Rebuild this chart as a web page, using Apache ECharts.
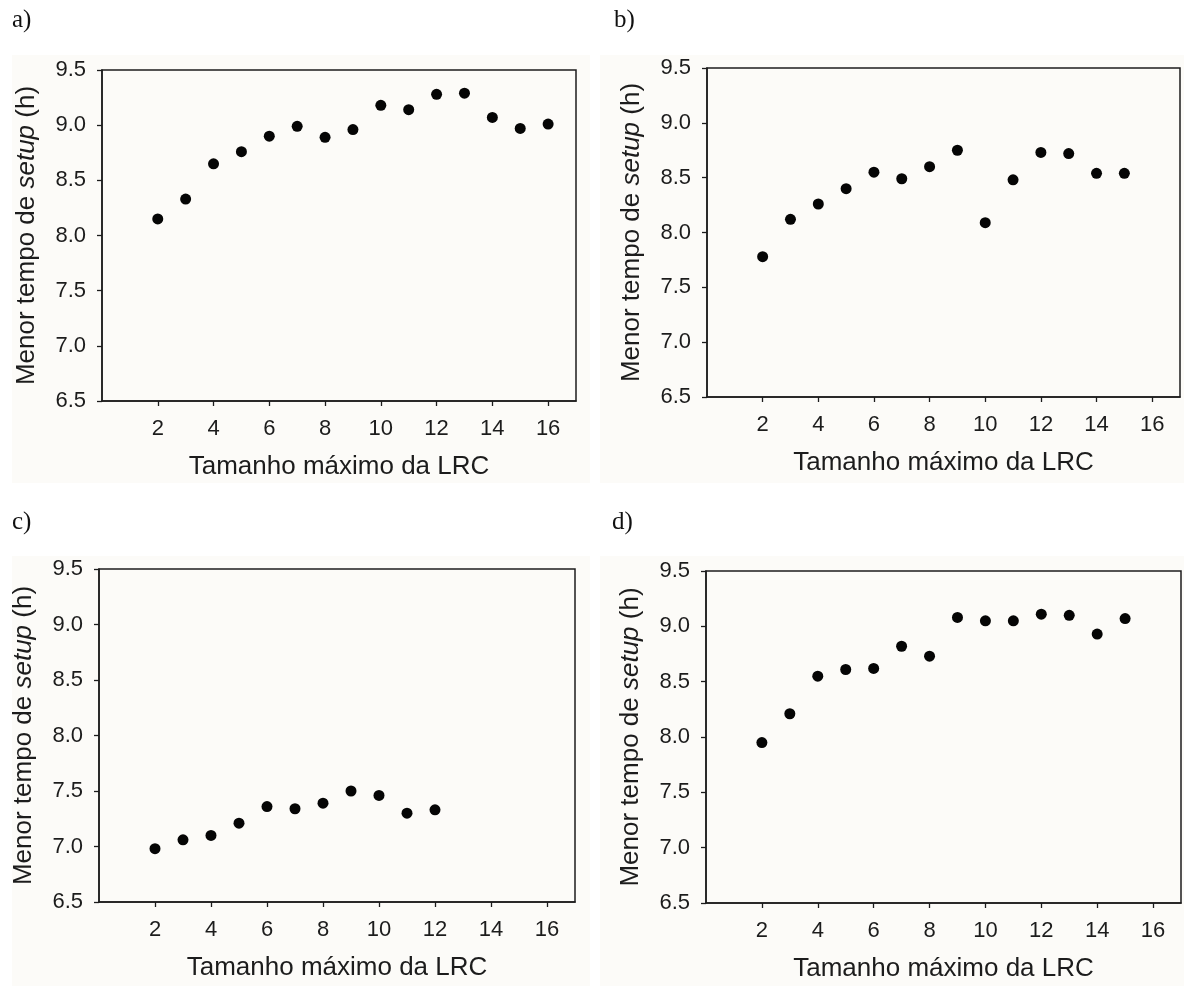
<!DOCTYPE html>
<html>
<head>
<meta charset="utf-8">
<title>Menor tempo de setup por tamanho máximo da LRC</title>
<script src="https://cdn.jsdelivr.net/npm/echarts@6/dist/echarts.min.js"></script>
<style>
  html, body { margin: 0; padding: 0; background: #ffffff; }
  #chart { width: 1184px; height: 987px; }
</style>
</head>
<body>
<div id="chart"></div>
<script>
// Tamanho máximo da LRC (x) and menor tempo de setup em horas (y), one list per cenário
const panelLabels = ['a)', 'b)', 'c)', 'd)'];
const xTicks = [2, 4, 6, 8, 10, 12, 14, 16];

const lrcA = [2, 3, 4, 5, 6, 7, 8, 9, 10, 11, 12, 13, 14, 15, 16];
const setupA = [8.15, 8.33, 8.65, 8.76, 8.90, 8.99, 8.89, 8.96, 9.18, 9.14, 9.28, 9.29, 9.07, 8.97, 9.01];

const lrcB = [2, 3, 4, 5, 6, 7, 8, 9, 10, 11, 12, 13, 14, 15];
const setupB = [7.78, 8.12, 8.26, 8.40, 8.55, 8.49, 8.60, 8.75, 8.09, 8.48, 8.73, 8.72, 8.54, 8.54];

const lrcC = [2, 3, 4, 5, 6, 7, 8, 9, 10, 11, 12];
const setupC = [6.98, 7.06, 7.10, 7.21, 7.36, 7.34, 7.39, 7.50, 7.46, 7.30, 7.33];

const lrcD = [2, 3, 4, 5, 6, 7, 8, 9, 10, 11, 12, 13, 14, 15];
const setupD = [7.95, 8.21, 8.55, 8.61, 8.62, 8.82, 8.73, 9.08, 9.05, 9.05, 9.11, 9.10, 8.93, 9.07];

const xTitle = 'Tamanho máximo da LRC';
const yTitle = '{r|Menor tempo de }{i|setup}{r| (h)}';

const panels = [
  { x: lrcA, y: setupA, grid: { left: 102, top: 70, width: 474, height: 331 }, bg: [12, 55, 578, 428], label: [12, 8] },
  { x: lrcB, y: setupB, grid: { left: 707, top: 68, width: 473, height: 329 }, bg: [600, 55, 584, 428], label: [614, 8] },
  { x: lrcC, y: setupC, grid: { left: 99, top: 569, width: 476, height: 333 }, bg: [12, 556, 578, 430], label: [12, 510] },
  { x: lrcD, y: setupD, grid: { left: 706, top: 571, width: 475, height: 332 }, bg: [600, 556, 584, 430], label: [612, 510] }
];

const ink = '#1c1c1c';
const sans = '"Liberation Sans", Arial, sans-serif';

const grids = [], xAxes = [], yAxes = [], series = [], graphics = [];

panels.forEach((p, i) => {
  graphics.push({
    type: 'rect', z: -10, silent: true,
    shape: { x: p.bg[0], y: p.bg[1], width: p.bg[2], height: p.bg[3] },
    style: { fill: '#fcfbf8' }
  });
  graphics.push({
    type: 'text', left: p.label[0], top: p.label[1],
    style: { text: panelLabels[i], font: '25px "Liberation Serif", "Times New Roman", serif', fill: '#111' }
  });

  grids.push(Object.assign({
    show: true, borderColor: ink, borderWidth: 1.5, backgroundColor: 'transparent'
  }, p.grid));

  xAxes.push({
    type: 'value', gridIndex: i, min: 0, max: 17,
    name: xTitle, nameLocation: 'middle', nameGap: 53,
    nameTextStyle: { fontFamily: sans, fontSize: 26, color: ink },
    axisLine: { show: true, onZero: false, lineStyle: { color: ink, width: 1.5 } },
    axisTick: { show: true, inside: false, length: 5, customValues: xTicks, lineStyle: { color: ink, width: 1.3 } },
    axisLabel: { show: true, customValues: xTicks, margin: 17, fontFamily: sans, fontSize: 22, color: ink },
    splitLine: { show: false }
  });

  yAxes.push({
    type: 'value', gridIndex: i, min: 6.5, max: 9.5, interval: 0.5,
    name: yTitle, nameLocation: 'middle', nameGap: 62, nameRotate: 90,
    nameTextStyle: {
      fontFamily: sans, fontSize: 26, color: ink,
      rich: {
        r: { fontFamily: sans, fontSize: 26, color: ink },
        i: { fontFamily: sans, fontSize: 26, color: ink, fontStyle: 'italic' }
      }
    },
    axisLine: { show: true, onZero: false, lineStyle: { color: ink, width: 1.5 } },
    axisTick: { show: true, inside: false, length: 5, lineStyle: { color: ink, width: 1.3 } },
    axisLabel: {
      show: true, margin: 16, fontFamily: sans, fontSize: 22, color: ink,
      formatter: v => v.toFixed(1)
    },
    splitLine: { show: false }
  });

  series.push({
    type: 'scatter', xAxisIndex: i, yAxisIndex: i,
    symbol: 'circle', symbolSize: 11,
    itemStyle: { color: '#050505', opacity: 1 },
    data: p.x.map((v, k) => [v, p.y[k]]),
    silent: true
  });
});

const chart = echarts.init(document.getElementById('chart'), null, { renderer: 'canvas' });
chart.setOption({
  backgroundColor: '#ffffff',
  animation: false,
  graphic: graphics,
  grid: grids,
  xAxis: xAxes,
  yAxis: yAxes,
  series: series
});
</script>
</body>
</html>
